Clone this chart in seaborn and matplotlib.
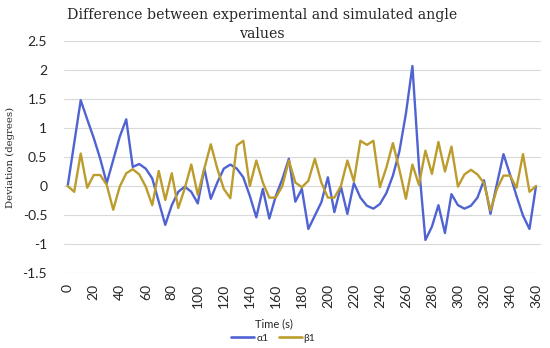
import numpy as np
import pandas as pd
import matplotlib
matplotlib.use("Agg")
import matplotlib.pyplot as plt
import seaborn as sns

# time in seconds, one sample every 5 s
time_s = list(range(0, 365, 5))

alpha1 = [
    0.00, 0.74, 1.48, 1.15, 0.83, 0.47, 0.05, 0.45, 0.85, 1.15,
    0.33, 0.38, 0.30, 0.13, -0.27, -0.67, -0.33, -0.10, -0.01, -0.10,
    -0.30, 0.30, -0.22, 0.06, 0.30, 0.37, 0.30, 0.15, -0.17, -0.54,
    -0.05, -0.56, -0.17, 0.12, 0.47, -0.27, -0.05, -0.74, -0.51, -0.28,
    0.15, -0.45, -0.01, -0.48, 0.05, -0.20, -0.34, -0.39, -0.31, -0.12,
    0.18, 0.60, 1.25, 2.07, 0.35, -0.93, -0.70, -0.33, -0.81, -0.14,
    -0.33, -0.39, -0.34, -0.20, 0.10, -0.48, 0.04, 0.55, 0.20, -0.17,
    -0.51, -0.74, 0.00,
]

beta1 = [
    0.00, -0.10, 0.56, -0.03, 0.19, 0.19, 0.02, -0.41, -0.01, 0.22,
    0.29, 0.20, -0.01, -0.33, 0.26, -0.24, 0.22, -0.38, -0.04, 0.37,
    -0.15, 0.30, 0.72, 0.30, -0.05, -0.21, 0.70, 0.78, 0.00, 0.44,
    0.06, -0.20, -0.20, 0.00, 0.44, 0.06, -0.02, 0.09, 0.47, 0.06,
    -0.20, -0.20, 0.00, 0.44, 0.08, 0.78, 0.71, 0.78, -0.02, 0.32,
    0.74, 0.28, -0.22, 0.37, 0.02, 0.61, 0.21, 0.76, 0.25, 0.68,
    -0.01, 0.20, 0.28, 0.20, 0.05, -0.42, -0.05, 0.18, 0.18, -0.03,
    0.55, -0.10, 0.00,
]

series_names = ["α1", "β1"]
series_colors = ["#4F63D2", "#BC9C2C"]
y_ticks = [-1.5, -1, -0.5, 0, 0.5, 1, 1.5, 2, 2.5]
x_ticks = list(range(0, 361, 20))

df = pd.DataFrame({
    "time": time_s * 2,
    "value": alpha1 + beta1,
    "series": [series_names[0]] * len(alpha1) + [series_names[1]] * len(beta1),
})

sns.set_style("white")
plt.rcParams["font.family"] = ["Lato", "DejaVu Sans"]

fig = plt.figure(figsize=(5.5, 3.48), dpi=100)
ax = fig.add_axes([0.116, 0.2155, 0.868, 0.6665])

sns.lineplot(data=df, x="time", y="value", hue="series",
             palette=dict(zip(series_names, series_colors)),
             linewidth=1.7, ax=ax, legend=False)

ax.set_xlim(-3, 364)
ax.set_ylim(-1.5, 2.5)
ax.set_yticks(y_ticks)
ax.set_yticklabels([f"{v:g}" for v in y_ticks], fontsize=10)
ax.set_xticks(x_ticks)
ax.set_xticklabels([str(v) for v in x_ticks], rotation=90, fontsize=10)
ax.tick_params(axis="both", length=0)
ax.tick_params(axis="y", pad=12)
ax.tick_params(axis="x", pad=8)
ax.yaxis.grid(True, color="#D9D9D9", linewidth=0.8)
ax.xaxis.grid(False)
for s in ax.spines.values():
    s.set_visible(False)

ax.set_xlabel("")
ax.set_ylabel("")
fig.text(0.019, 0.549, "Deviation (degrees)", rotation=90, ha="center", va="center",
         fontsize=7.3, family=["DejaVu Serif"])
fig.text(0.476, 0.958, "Difference between experimental and simulated angle",
         ha="center", va="center", fontsize=10.2, family=["DejaVu Serif"])
fig.text(0.476, 0.903, "values", ha="center", va="center",
         fontsize=10.2, family=["DejaVu Serif"])
fig.text(0.498, 0.069, "Time (s)", ha="center", va="center", fontsize=8)

handles = [plt.Line2D([], [], color=c, linewidth=1.9) for c in series_colors]
fig.legend(handles, series_names, loc="center", bbox_to_anchor=(0.497, 0.029),
           ncol=2, frameon=False, fontsize=7.5, handlelength=2.2,
           handletextpad=0.2, columnspacing=1.0, borderpad=0)

fig.savefig("out.png", dpi=100)
